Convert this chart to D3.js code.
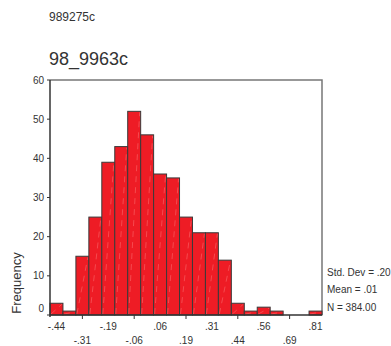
<!DOCTYPE html>
<html>
<head>
<meta charset="utf-8">
<script src="https://cdn.jsdelivr.net/npm/d3@7"></script>
<style>
  body { margin: 0; background: #fff; }
  text { font-family: "Liberation Sans", Arial, sans-serif; fill: #333; }
</style>
</head>
<body>
<svg width="391" height="346"></svg>
<script>
// bin centres (width .0625) and counts
const binStart = -0.46875;
const binWidth = 0.0625;
const counts = [3, 1, 15, 25, 39, 43, 52, 46, 36, 35, 25, 21, 21, 14, 3, 1, 2, 1, 0, 0, 1];
const topLabels = ["-.44", "-.19", ".06", ".31", ".56", ".81"];
const bottomLabels = ["-.31", "-.06", ".19", ".44", ".69"];
const yTicks = [0, 10, 20, 30, 40, 50, 60];
const stats = ["Std. Dev = .20", "Mean = .01", "N = 384.00"];

const svg = d3.select("svg");
const pLeft = 50, pRight = 322, pTop = 80, pBottom = 315;

const x = d3.scaleLinear()
  .domain([binStart, binStart + counts.length * binWidth])
  .range([pLeft, pRight]);
const y = d3.scaleLinear().domain([0, 60]).range([pBottom, pTop]);

const bins = counts.map((c, i) => ({ x0: binStart + i * binWidth, x1: binStart + (i + 1) * binWidth, c }));

svg.append("text").attr("x", 49).attr("y", 21).attr("font-size", 12).text("989275c");
svg.append("text").attr("x", 49).attr("y", 65).attr("font-size", 18).text("98_9963c");

// frame
svg.append("path")
  .attr("d", `M${pLeft},${pTop}H${pRight}V${pBottom}`)
  .attr("fill", "none").attr("stroke", "#777").attr("stroke-width", 1.5);

// bars
const bar = svg.selectAll("g.bar").data(bins.filter(d => d.c > 0)).enter().append("g");
bar.append("rect")
  .attr("x", d => x(d.x0))
  .attr("y", d => y(d.c))
  .attr("width", d => x(d.x1) - x(d.x0))
  .attr("height", d => pBottom - y(d.c))
  .attr("fill", "#ee1c25")
  .attr("stroke", "#3a3a3a")
  .attr("stroke-width", 1);
bar.append("line")
  .attr("x1", d => x(d.x0) + 1)
  .attr("y1", pBottom - 1)
  .attr("x2", d => x(d.x1) - 1)
  .attr("y2", d => y(d.c) + 1)
  .attr("stroke", "#ff8a8a")
  .attr("stroke-width", 0.6)
  .attr("stroke-dasharray", "6,5")
  .attr("opacity", 0.7);

// axes
svg.append("line").attr("x1", pLeft).attr("x2", pRight).attr("y1", pBottom).attr("y2", pBottom)
  .attr("stroke", "#333").attr("stroke-width", 1.5);
svg.append("line").attr("x1", pLeft).attr("x2", pLeft).attr("y1", pTop).attr("y2", pBottom + 2)
  .attr("stroke", "#333").attr("stroke-width", 1.5);

svg.selectAll("line.ytick").data(yTicks).enter().append("line")
  .attr("x1", pLeft - 3).attr("x2", pLeft)
  .attr("y1", d => y(d)).attr("y2", d => y(d))
  .attr("stroke", "#333");
svg.selectAll("text.ytick").data(yTicks).enter().append("text")
  .attr("x", pLeft - 6)
  .attr("y", d => y(d) + (d === 0 ? -3 : 3.5))
  .attr("text-anchor", "end")
  .attr("font-size", 10)
  .text(d => d);

const centre = i => x(binStart + (i + 0.5) * binWidth);
svg.selectAll("text.top").data(topLabels).enter().append("text")
  .attr("x", (d, i) => centre(i * 4))
  .attr("y", pBottom + 14.5)
  .attr("text-anchor", "middle").attr("font-size", 10)
  .text(d => d);
svg.selectAll("line.xtick").data(bottomLabels).enter().append("line")
  .attr("x1", (d, i) => centre(i * 4 + 2)).attr("x2", (d, i) => centre(i * 4 + 2))
  .attr("y1", pBottom).attr("y2", pBottom + 4)
  .attr("stroke", "#333");
svg.selectAll("text.bottom").data(bottomLabels).enter().append("text")
  .attr("x", (d, i) => centre(i * 4 + 2))
  .attr("y", pBottom + 29)
  .attr("text-anchor", "middle").attr("font-size", 10)
  .text(d => d);

svg.append("text")
  .attr("transform", "translate(21,283) rotate(-90)")
  .attr("text-anchor", "middle").attr("font-size", 13)
  .text("Frequency");

svg.selectAll("text.stat").data(stats).enter().append("text")
  .attr("x", 327)
  .attr("y", (d, i) => 275.5 + i * 17.5)
  .attr("font-size", 10)
  .text(d => d);
</script>
</body>
</html>
